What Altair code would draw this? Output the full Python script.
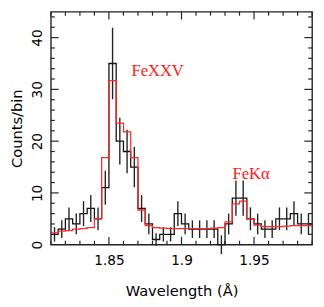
import altair as alt
import pandas as pd

# ---- data ----
bin_start = 1.81
bin_width = 0.005
counts = [2, 3, 5, 4, 6, 7, 5, 11, 35, 20, 18, 15, 7, 4, 1, 2, 2, 6, 4, 3,
          3, 3, 3, 0, 4, 9, 9, 5, 4, 3, 3, 5, 5, 6, 4, 4]
errors = [1.4, 1.7, 2.2, 2.0, 2.4, 2.6, 2.2, 3.3, 6.9, 4.5, 4.2, 3.9, 2.6, 2.0, 1.2, 1.4,
          1.4, 2.4, 2.0, 1.7, 1.7, 1.7, 1.7, 1.8, 2.0, 3.4, 3.4, 2.2, 2.0, 1.7, 1.7, 2.2,
          2.2, 2.4, 2.0, 2.0]
model = [2.3, 2.6, 2.7, 3.0, 3.1, 3.3, 5.1, 16.8, 31.7, 23.5, 21.8, 16.8, 6.7, 3.7, 3.3, 3.2,
         3.1, 3.1, 3.1, 3.1, 3.1, 3.1, 3.2, 3.3, 4.4, 7.9, 8.4, 5.0, 3.8, 3.5, 3.5, 3.5,
         3.6, 3.7, 3.7, 3.7]

ann_labels = ["FeXXV", "FeKα"]
ann_x = [1.8655, 1.9352]
ann_y = [32.6, 12.7]

x_major = [1.85, 1.9, 1.95]
x_minor = [1.81, 1.82, 1.83, 1.84, 1.86, 1.87, 1.88, 1.89, 1.91, 1.92, 1.93, 1.94,
           1.96, 1.97, 1.98, 1.99]
y_major = [10, 20, 30, 40]
y_minor = [2, 4, 6, 8, 12, 14, 16, 18, 22, 24, 26, 28, 32, 34, 36, 38, 42, 44]

W, H = 268, 239

# ---- tables ----
edges = [round(bin_start + bin_width * i, 4) for i in range(len(counts) + 1)]
centers = [round(bin_start + bin_width * (i + 0.5), 5) for i in range(len(counts))]
step_df = pd.DataFrame({"x": edges, "data": counts + [counts[-1]], "model": model + [model[-1]]})
err_df = pd.DataFrame({"x": centers,
                       "lo": [c - e for c, e in zip(counts, errors)],
                       "hi": [c + e for c, e in zip(counts, errors)]})
ann_df = pd.DataFrame({"label": ann_labels, "x": ann_x, "y": ann_y})
xmaj_df = pd.DataFrame({"x": x_major})
xmin_df = pd.DataFrame({"x": x_minor})
ymaj_df = pd.DataFrame({"y": y_major})
ymin_df = pd.DataFrame({"y": y_minor})

xscale = alt.Scale(domain=[1.81, 1.99], nice=False, zero=False)
yscale = alt.Scale(domain=[0, 45], nice=False, zero=False)

xaxis = alt.Axis(title="Wavelength (Å)", values=x_major, format="~g", ticks=False, tickSize=0,
                 domain=False, grid=False, labelFont="DejaVu Sans", labelFontSize=14,
                 labelColor="black", labelPadding=9, titleFont="DejaVu Sans",
                 titleFontSize=15, titleFontWeight="normal", titleColor="black",
                 titlePadding=17)
yaxis = alt.Axis(title="Counts/bin", values=[0, 10, 20, 30, 40], ticks=False, tickSize=0,
                 domain=False, grid=False, labelFont="DejaVu Sans", labelFontSize=14,
                 labelColor="black", labelAngle=270, labelAlign="center",
                 labelBaseline="alphabetic", labelPadding=10, titleFont="DejaVu Sans",
                 titleFontSize=15, titleFontWeight="normal", titleColor="black",
                 titlePadding=6)


def X(field):
    return alt.X(field, type="quantitative", scale=xscale, axis=xaxis)


def Y(field):
    return alt.Y(field, type="quantitative", scale=yscale, axis=yaxis)


data_line = alt.Chart(step_df).mark_line(interpolate="step-after", color="#111111",
                                         strokeWidth=1.3).encode(x=X("x"), y=Y("data"))
model_line = alt.Chart(step_df).mark_line(interpolate="step-after", color="#ff2a2a",
                                          strokeWidth=1.3).encode(x=X("x"), y=Y("model"))
err_bars = alt.Chart(err_df).mark_rule(color="#222222", strokeWidth=1.4).encode(
    x=X("x"), y=Y("lo"), y2="hi")
labels = alt.Chart(ann_df).mark_text(align="left", baseline="alphabetic", color="#ff1a1a",
                                     font="Liberation Serif", fontSize=17).encode(
    x=X("x"), y=Y("y"), text="label:N")

tick_color = "#222222"
xb_maj = alt.Chart(xmaj_df).mark_rule(color=tick_color, strokeWidth=1.2).encode(
    x=X("x"), y=alt.value(H), y2=alt.value(H - 8))
xt_maj = alt.Chart(xmaj_df).mark_rule(color=tick_color, strokeWidth=1.2).encode(
    x=X("x"), y=alt.value(0), y2=alt.value(8))
xb_min = alt.Chart(xmin_df).mark_rule(color=tick_color, strokeWidth=1.2).encode(
    x=X("x"), y=alt.value(H), y2=alt.value(H - 4))
xt_min = alt.Chart(xmin_df).mark_rule(color=tick_color, strokeWidth=1.2).encode(
    x=X("x"), y=alt.value(0), y2=alt.value(4))
yl_maj = alt.Chart(ymaj_df).mark_rule(color=tick_color, strokeWidth=1.2).encode(
    y=Y("y"), x=alt.value(0), x2=alt.value(8))
yr_maj = alt.Chart(ymaj_df).mark_rule(color=tick_color, strokeWidth=1.2).encode(
    y=Y("y"), x=alt.value(W), x2=alt.value(W - 8))
yl_min = alt.Chart(ymin_df).mark_rule(color=tick_color, strokeWidth=1.2).encode(
    y=Y("y"), x=alt.value(0), x2=alt.value(4))
yr_min = alt.Chart(ymin_df).mark_rule(color=tick_color, strokeWidth=1.2).encode(
    y=Y("y"), x=alt.value(W), x2=alt.value(W - 4))

chart = alt.layer(
    xb_maj, xt_maj, xb_min, xt_min, yl_maj, yr_maj, yl_min, yr_min,
    data_line, err_bars, model_line, labels
).properties(
    width=W, height=H,
    autosize=alt.AutoSizeParams(type="none"),
    padding={"left": 44, "top": 0, "right": 4, "bottom": 56},
    background="white",
).configure_view(stroke="#222222", strokeWidth=1.4)

chart.save("out.html", embed_options={"renderer": "svg", "actions": False})
